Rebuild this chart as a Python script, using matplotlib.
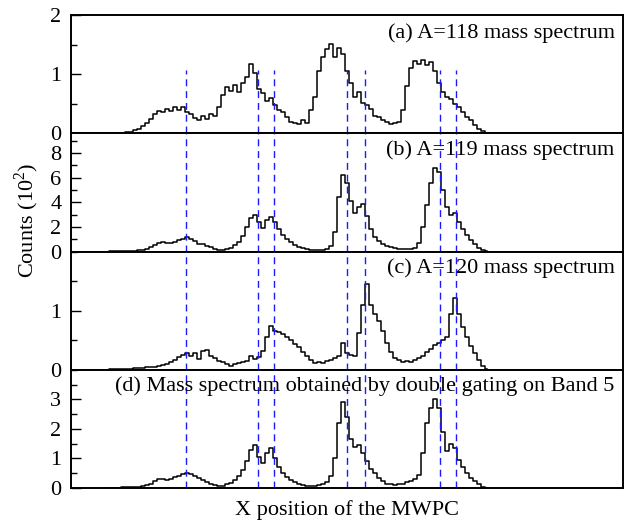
import matplotlib
matplotlib.use("Agg")
import matplotlib.pyplot as plt
from matplotlib.ticker import MultipleLocator

plt.rcParams['font.family'] = ['Liberation Serif', 'DejaVu Serif']
plt.rcParams['mathtext.fontset'] = 'custom'
plt.rcParams['mathtext.rm'] = 'Liberation Serif'

# channel numbers of the MWPC x position (first channel of the data arrays)
first_channel = 9
n_channels = 138

# counts (in units of 10^2), one value per channel from first_channel on
a118 = [0.00, 0.00, 0.01, 0.01, 0.01, 0.02, 0.03, 0.05, 0.08, 0.12,
        0.18, 0.25, 0.33, 0.38, 0.36, 0.42, 0.38, 0.44, 0.40, 0.45,
        0.36, 0.32, 0.26, 0.22, 0.30, 0.25, 0.32, 0.30, 0.45, 0.65,
        0.78, 0.72, 0.82, 0.70, 0.85, 0.95, 1.18, 1.02, 0.75, 0.68,
        0.55, 0.60, 0.48, 0.40, 0.36, 0.28, 0.20, 0.18, 0.16, 0.22,
        0.18, 0.40, 0.62, 1.05, 1.30, 1.42, 1.52, 1.30, 1.45, 1.35,
        1.05, 0.85, 0.62, 0.70, 0.52, 0.48, 0.42, 0.30, 0.28, 0.22,
        0.20, 0.16, 0.18, 0.20, 0.40, 0.80, 1.10, 1.22, 1.18, 1.25,
        1.15, 1.20, 1.05, 0.85, 0.70, 0.62, 0.58, 0.50, 0.45, 0.36,
        0.28, 0.22, 0.14, 0.08, 0.04, 0.01]

a119 = [0.00, 0.01, 0.02, 0.03, 0.04, 0.05, 0.06, 0.08, 0.10, 0.15,
        0.22, 0.35, 0.50, 0.68, 0.75, 0.70, 0.68, 0.80, 0.95, 1.05,
        1.15, 1.05, 0.85, 0.65, 0.58, 0.48, 0.38, 0.22, 0.14, 0.12,
        0.18, 0.26, 0.50, 0.80, 1.30, 2.00, 2.70, 2.95, 2.40, 1.90,
        2.60, 2.85, 2.40, 1.80, 1.35, 1.00, 0.75, 0.50, 0.38, 0.28,
        0.20, 0.15, 0.13, 0.14, 0.15, 0.22, 0.46, 1.60, 4.40, 6.20,
        5.60, 4.10, 3.10, 3.60, 3.90, 2.90, 1.80, 1.20, 0.90, 0.65,
        0.48, 0.35, 0.27, 0.24, 0.22, 0.24, 0.25, 0.30, 0.70, 2.00,
        3.80, 5.60, 6.80, 6.50, 5.00, 3.60, 3.00, 3.10, 2.40, 1.80,
        1.35, 0.95, 0.60, 0.30, 0.10, 0.02]

a120 = [0.00, 0.01, 0.01, 0.01, 0.02, 0.02, 0.02, 0.03, 0.03, 0.03,
        0.04, 0.04, 0.05, 0.07, 0.08, 0.10, 0.13, 0.17, 0.21, 0.25,
        0.28, 0.24, 0.29, 0.18, 0.32, 0.34, 0.24, 0.20, 0.15, 0.13,
        0.10, 0.07, 0.09, 0.11, 0.13, 0.15, 0.24, 0.18, 0.21, 0.32,
        0.55, 0.74, 0.66, 0.64, 0.60, 0.55, 0.50, 0.44, 0.38, 0.30,
        0.24, 0.16, 0.11, 0.14, 0.12, 0.15, 0.17, 0.20, 0.24, 0.46,
        0.28, 0.25, 0.24, 0.62, 1.10, 1.45, 1.10, 0.95, 0.82, 0.66,
        0.45, 0.30, 0.20, 0.16, 0.14, 0.15, 0.13, 0.16, 0.20, 0.24,
        0.30, 0.36, 0.42, 0.45, 0.50, 0.55, 0.95, 1.22, 0.95, 0.72,
        0.55, 0.40, 0.28, 0.17, 0.06, 0.01]

band5 = [0.00, 0.00, 0.01, 0.01, 0.02, 0.02, 0.02, 0.03, 0.04, 0.06,
         0.10, 0.15, 0.25, 0.32, 0.30, 0.27, 0.30, 0.38, 0.42, 0.46,
         0.50, 0.47, 0.40, 0.33, 0.26, 0.20, 0.14, 0.10, 0.07, 0.08,
         0.12, 0.18, 0.28, 0.40, 0.60, 0.90, 1.30, 1.45, 1.05, 0.85,
         1.20, 1.35, 1.00, 0.72, 0.52, 0.38, 0.28, 0.20, 0.15, 0.10,
         0.08, 0.06, 0.07, 0.09, 0.12, 0.20, 0.40, 1.00, 2.20, 2.90,
         2.40, 1.65, 1.40, 1.45, 1.20, 0.90, 0.65, 0.50, 0.35, 0.22,
         0.15, 0.12, 0.11, 0.12, 0.15, 0.20, 0.25, 0.30, 0.45, 1.20,
         2.20, 2.70, 3.00, 2.70, 1.90, 1.25, 1.50, 1.35, 0.95, 0.70,
         0.50, 0.35, 0.22, 0.12, 0.04, 0.00]

# gate positions (channels) of the blue dashed lines
gates = [28.75, 46.7, 50.8, 68.9, 73.5, 92.2, 96.25]

spectra = [a118, a119, a120, band5]
labels = ["(a) A=118 mass spectrum",
          "(b) A=119 mass spectrum",
          "(c) A=120 mass spectrum",
          "(d) Mass spectrum obtained by double gating on Band 5"]
ylims = [2, 9.6, 2, 4]
yticks = [[0, 1, 2], [0, 2, 4, 6, 8], [0, 1], [0, 1, 2, 3]]
yminor = [0.5, 1, 0.5, 0.5]
label_y = [0.845, 0.86, 0.86, 0.86]

fig = plt.figure(figsize=(6.29, 5.24), dpi=100)

left, width = 71 / 629, 552 / 629
h = 118.2 / 524
bottom0 = 1 - 488 / 524

channels = list(range(first_channel, first_channel + len(a118)))

for i, (y, lab) in enumerate(zip(spectra, labels)):
    ax = fig.add_axes([left, bottom0 + (3 - i) * h, width, h])
    ax.plot(channels, y, color='k', lw=1.1, drawstyle='steps-mid')
    ax.set_xlim(0, n_channels)
    ax.set_ylim(0, ylims[i])
    ax.set_yticks(yticks[i])
    ax.yaxis.set_minor_locator(MultipleLocator(yminor[i]))
    ax.set_xticks([])
    ax.tick_params(axis='y', which='major', direction='in', length=7,
                   width=1, labelsize=16, pad=7)
    ax.tick_params(axis='y', which='minor', direction='in', length=4, width=1)
    for s in ax.spines.values():
        s.set_linewidth(1.4)
    ymax = 1.08 / ylims[i] if i == 0 else 1
    for g in gates:
        ax.axvline(g, ymin=0, ymax=ymax, color='#1a1aff', lw=1,
                   ls=(0, (5, 3.5)))
    ax.text(0.985, label_y[i], lab, transform=ax.transAxes, ha='right',
            va='center', fontsize=16)

fig.text(0.043, 0.58, "Counts (10$^2$)", rotation=90, ha='center',
         va='center', fontsize=16)
fig.text(left + width / 2, 0.027, "X position of the MWPC", ha='center',
         va='center', fontsize=16)

fig.savefig("out.png", dpi=100)
